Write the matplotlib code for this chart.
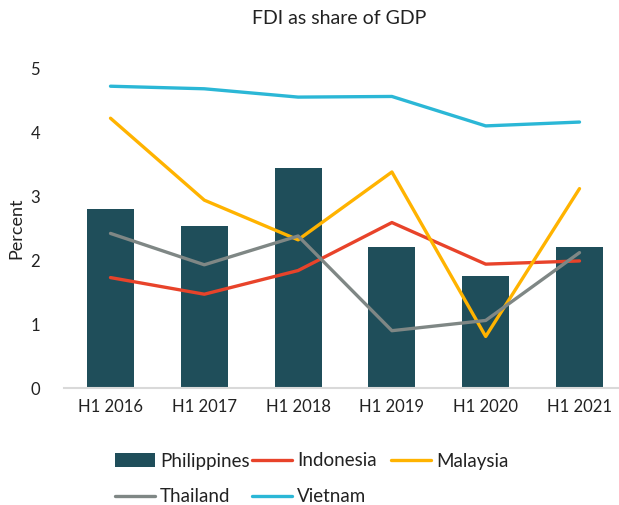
import matplotlib
matplotlib.use("Agg")
import matplotlib.pyplot as plt
import numpy as np

plt.rcParams['font.family'] = ['Lato', 'DejaVu Sans']

categories = ["H1 2016", "H1 2017", "H1 2018", "H1 2019", "H1 2020", "H1 2021"]
philippines = [2.80, 2.54, 3.45, 2.21, 1.76, 2.21]
indonesia = [1.73, 1.47, 1.84, 2.59, 1.94, 1.99]
malaysia = [4.22, 2.94, 2.32, 3.38, 0.81, 3.12]
thailand = [2.42, 1.93, 2.38, 0.90, 1.06, 2.12]
vietnam = [4.72, 4.68, 4.55, 4.56, 4.10, 4.16]
yticks = [0, 1, 2, 3, 4, 5]

W, H = 619, 505
fig = plt.figure(figsize=(W / 100, H / 100), dpi=100)
left, right = 63.6, 626.4
bottom, top = 388.3, 68.3
ax = fig.add_axes([left / W, (H - bottom) / H, (right - left) / W, (bottom - top) / H])

x = np.arange(len(categories))
b = ax.bar(x, philippines, width=0.5, color="#1F4E5A", label="Philippines", zorder=2)
lw = 2.4
l1, = ax.plot(x, indonesia, color="#E8432A", lw=lw, label="Indonesia", zorder=3, solid_capstyle='round')
l2, = ax.plot(x, malaysia, color="#FFB300", lw=lw, label="Malaysia", zorder=3, solid_capstyle='round')
l3, = ax.plot(x, thailand, color="#7F8785", lw=lw, label="Thailand", zorder=3, solid_capstyle='round')
l4, = ax.plot(x, vietnam, color="#2BB7D6", lw=lw, label="Vietnam", zorder=3, solid_capstyle='round')

ax.set_xlim(-0.5, len(categories) - 0.5)
ax.set_ylim(0, 5)
ax.set_xticks(x)
ax.set_xticklabels(categories, fontsize=12, color="#222222")
ax.set_yticks(yticks)
ax.set_yticklabels([str(v) for v in yticks], fontsize=12, color="#222222")
ax.tick_params(axis='both', length=0)
ax.tick_params(axis='y', pad=17)
ax.tick_params(axis='x', pad=8)
for s in ['top', 'right', 'left']:
    ax.spines[s].set_visible(False)
ax.spines['bottom'].set_color("#D9D9D9")
ax.spines['bottom'].set_linewidth(1.5)

ax.set_ylabel("Percent", fontsize=13, color="#222222", labelpad=4)
fig.text(339 / W, 1 - 18 / H, "FDI as share of GDP", ha='center', va='center', fontsize=14, color="#222222")

# Legend entries placed on a fixed grid like the original
fs = 13.5
fs_px = fs * 100 / 72
entries = [(b, "Philippines", 115, 461), (l1, "Indonesia", 252, 461), (l2, "Malaysia", 391, 461),
           (l3, "Thailand", 115, 497), (l4, "Vietnam", 252, 497)]
for h, lab, px, py in entries:
    lg = fig.legend([h], [lab], loc='center left', bbox_to_anchor=(px / W, 1 - py / H),
                    frameon=False, fontsize=fs, handlelength=40 / fs_px, handletextpad=5 / fs_px,
                    borderaxespad=0, borderpad=0)
    for t in lg.get_texts():
        t.set_color("#222222")

fig.savefig("out.png", dpi=100)
